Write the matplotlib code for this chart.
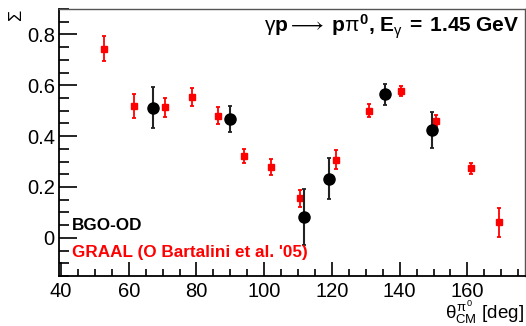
import matplotlib
matplotlib.use("Agg")
import matplotlib.pyplot as plt
from matplotlib.ticker import MultipleLocator

plt.rcParams['font.family'] = ['Liberation Sans', 'DejaVu Sans']
plt.rcParams['mathtext.fontset'] = 'custom'
plt.rcParams['mathtext.rm'] = 'Liberation Sans'
plt.rcParams['mathtext.it'] = 'Liberation Sans'
plt.rcParams['mathtext.bf'] = 'Liberation Sans:bold'
plt.rcParams['mathtext.sf'] = 'Liberation Sans'

# GRAAL (red squares)
graal_theta = [52.7, 61.6, 70.6, 78.8, 86.4, 94.1, 102.0, 110.7, 121.3, 130.9, 140.3, 150.6, 161.0, 169.2]
graal_sigma = [0.744, 0.517, 0.513, 0.553, 0.480, 0.322, 0.278, 0.156, 0.307, 0.500, 0.579, 0.461, 0.273, 0.062]
graal_err = [0.049, 0.047, 0.038, 0.035, 0.033, 0.028, 0.031, 0.034, 0.037, 0.026, 0.020, 0.022, 0.020, 0.057]

# BGO-OD (black circles)
bgo_theta = [67.3, 89.9, 111.8, 119.1, 135.7, 149.5]
bgo_sigma = [0.512, 0.466, 0.081, 0.232, 0.565, 0.425]
bgo_err = [0.080, 0.051, 0.111, 0.081, 0.041, 0.070]

W, H = 526, 326
fig = plt.figure(figsize=(W / 100, H / 100), dpi=100)
ax = fig.add_axes([59 / W, (H - 276) / H, (525 - 59) / W, (276 - 9) / H])

ax.errorbar(graal_theta, graal_sigma, yerr=graal_err, fmt='s', color='#ff0000',
            ms=5, elinewidth=1.3, capsize=1.2, capthick=1.3, zorder=3)
ax.errorbar(bgo_theta, bgo_sigma, yerr=bgo_err, fmt='o', color='black',
            ms=8, elinewidth=1.5, ecolor='#222222', capsize=1.2, capthick=1.3, zorder=4)

ax.set_xlim(39.4, 177.0)
ax.set_ylim(-0.15, 0.9)
ax.xaxis.set_major_locator(MultipleLocator(20))
ax.xaxis.set_minor_locator(MultipleLocator(5))
ax.yaxis.set_major_locator(MultipleLocator(0.2))
ax.yaxis.set_minor_locator(MultipleLocator(0.05))
ax.set_yticks([0, 0.2, 0.4, 0.6, 0.8])
ax.set_yticklabels(['0', '0.2', '0.4', '0.6', '0.8'])

ax.tick_params(axis='both', which='both', direction='in', top=False, right=False,
               labelsize=14.5, width=1.2, color='black')
ax.tick_params(axis='y', which='major', length=13, pad=3)
ax.tick_params(axis='y', which='minor', length=7)
ax.tick_params(axis='x', which='major', length=10, pad=4)
ax.tick_params(axis='x', which='minor', length=5)

for s in ['left', 'bottom']:
    ax.spines[s].set_linewidth(1.3)
    ax.spines[s].set_color('black')
for s in ['top', 'right']:
    ax.spines[s].set_linewidth(1.0)
    ax.spines[s].set_color('#555555')

title = (r"$\gamma\mathbf{p}\longrightarrow\;\mathbf{p}\pi^{\mathbf{0}}\mathbf{,}\;"
         r"\mathbf{E}_{\gamma}\;\mathbf{{=}\;1.45\;GeV}$")
ax.text(0.988, 0.985, title, transform=ax.transAxes, ha='right', va='top',
        fontsize=15, fontweight='bold')

fig.text(72 / W, 1 - 226 / H, 'BGO-OD', color='black', fontsize=12.3, fontweight='bold',
         ha='left', va='center')
fig.text(72 / W, 1 - 252 / H, "GRAAL (O Bartalini et al. '05)", color='#ff0000',
         fontsize=12.3, fontweight='bold', ha='left', va='center')

fig.text(524 / W, 1 - 312 / H, r"$\theta^{\pi^{0}}_{\mathrm{CM}}$ [deg]", fontsize=13.5,
         ha='right', va='center')
fig.text(17 / W, 1 - 16 / H, r"$\Sigma$", fontsize=13, rotation=90, ha='center', va='center')

fig.savefig('out.png', dpi=100)
